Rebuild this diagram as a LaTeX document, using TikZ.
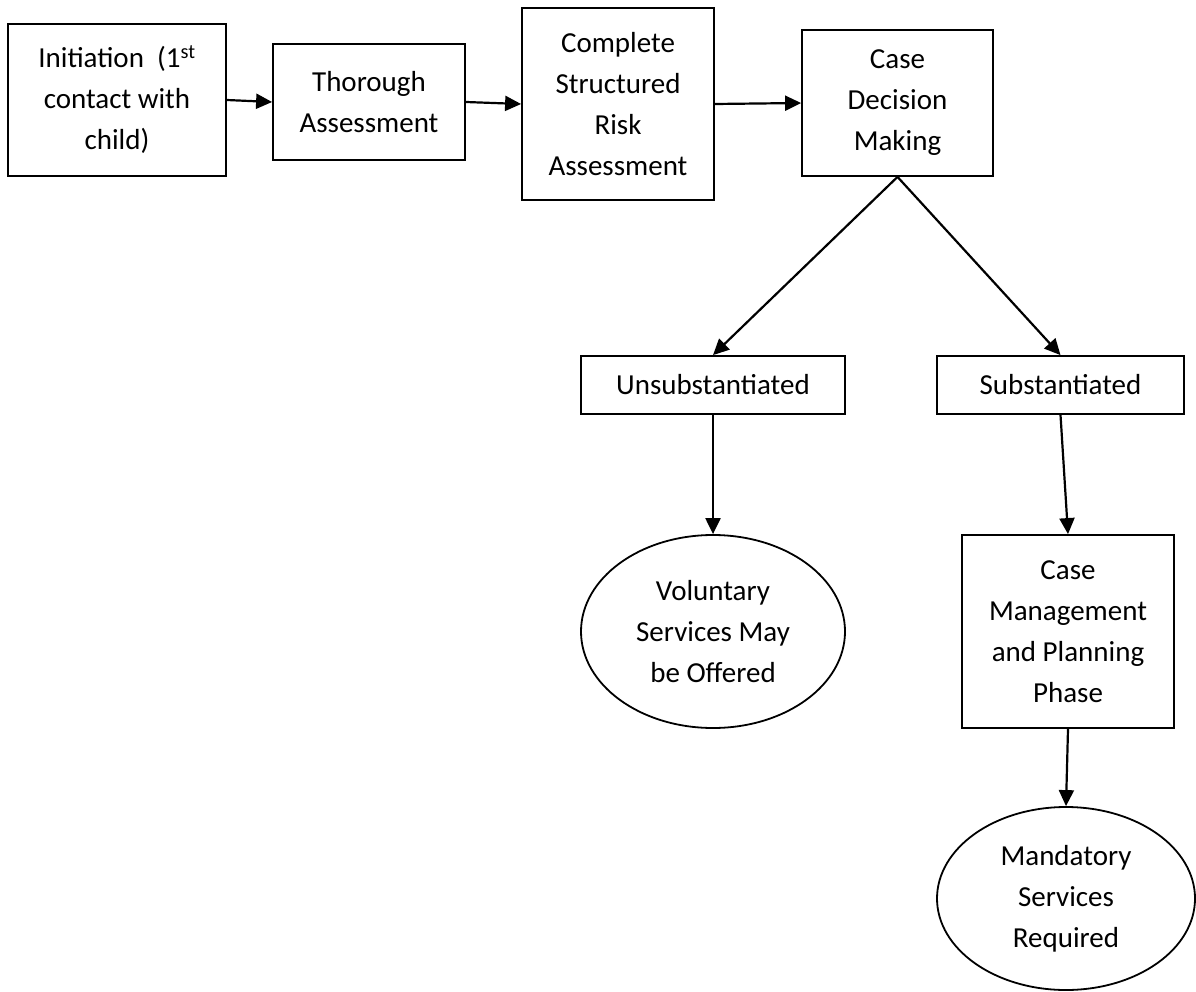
\documentclass[tikz,border=0pt]{standalone}
\usepackage{fontspec}
\setmainfont{Carlito}
\usetikzlibrary{shapes.geometric,arrows.meta}

\tikzset{
  stepbox/.style={draw=black, line width=1.8pt, rectangle, align=center,
    inner sep=0pt, font=\fontsize{29}{41}\selectfont},
  endoval/.style={draw=black, line width=1.8pt, ellipse, align=center,
    inner sep=0pt, font=\fontsize{29}{41}\selectfont},
  flow/.style={line width=2.2pt, -{Triangle[length=16pt,width=15pt]}}
}

\begin{document}
\begin{tikzpicture}[x=1pt, y=-1pt]
  \useasboundingbox (0,0) rectangle (1196,992);

  % top row of process steps
  \node[stepbox, minimum width=218pt, minimum height=152pt] (init) at (117,100)
    {Initiation\ \ (1\textsuperscript{st}\\contact with\\child)};
  \node[stepbox, minimum width=192pt, minimum height=116pt] (thorough) at (369,102)
    {Thorough\\Assessment};
  \node[stepbox, minimum width=192pt, minimum height=192pt] (risk) at (618,104)
    {Complete\\Structured\\Risk\\Assessment};
  \node[stepbox, minimum width=191pt, minimum height=146pt] (decision) at (897.5,103)
    {Case\\Decision\\Making};

  % outcomes of the decision
  \node[stepbox, minimum width=264pt, minimum height=58pt] (unsub) at (713,385)
    {Unsubstantiated};
  \node[stepbox, minimum width=247pt, minimum height=58pt] (subst) at (1060.5,385)
    {Substantiated};

  % follow-up
  \node[endoval, minimum width=264pt, minimum height=193pt] (voluntary) at (713,631.5)
    {Voluntary\\Services May\\be Offered};
  \node[stepbox, minimum width=212pt, minimum height=193pt] (planning) at (1068,631.5)
    {Case\\Management\\and Planning\\Phase};
  \node[endoval, minimum width=258pt, minimum height=183pt] (mandatory) at (1066,898.5)
    {Mandatory\\Services\\Required};

  % connectors
  \draw[flow] (init.east) -- (thorough.west);
  \draw[flow] (thorough.east) -- (risk.west);
  \draw[flow] (risk.east) -- (decision.west);
  \draw[flow] (decision.south) -- (unsub.north);
  \draw[flow] (decision.south) -- (subst.north);
  \draw[flow] (unsub.south) -- (voluntary.north);
  \draw[flow] (subst.south) -- (planning.north);
  \draw[flow] (planning.south) -- (mandatory.north);
\end{tikzpicture}
\end{document}
